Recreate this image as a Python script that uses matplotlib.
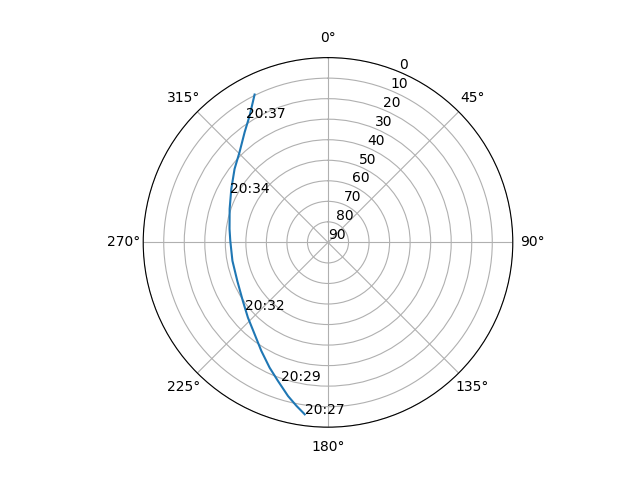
import numpy as np
import matplotlib
matplotlib.use("Agg")
import matplotlib.pyplot as plt

# satellite pass track (azimuth deg, elevation deg)
azimuth = [187.7, 190.9, 194.6, 199.9, 205.0, 211.6, 218.7, 226.8,
           235.6, 246.9, 259.1, 271.0, 277.8, 288.8, 298.9, 308.2,
           315.5, 322.9, 328.3, 333.6]
elevation = [5.5, 8.9, 12.7, 18.3, 22.7, 28.0, 32.8, 36.5,
             39.7, 42.0, 42.6, 42.4, 41.6, 39.4, 36.2, 32.1,
             28.5, 22.7, 17.4, 9.6]

# time marks along the pass
mark_times = ["20:27", "20:29", "20:32", "20:34", "20:37"]
mark_az = [187.7, 198.9, 231.1, 296.7, 326.6]
mark_el = [5.5, 18.7, 37.8, 36.7, 17.7]

fig = plt.figure(figsize=(6.4, 4.8), dpi=100)
ax = fig.add_subplot(111, projection="polar")
ax.set_theta_zero_location("N")
ax.set_theta_direction(-1)

ax.plot(np.radians(azimuth), elevation)
for t, a, e in zip(mark_times, mark_az, mark_el):
    ax.text(np.radians(a), e, t)

ax.set_rlim(90, 0)
ax.set_yticks(range(0, 91, 10))

fig.savefig("out.png")
